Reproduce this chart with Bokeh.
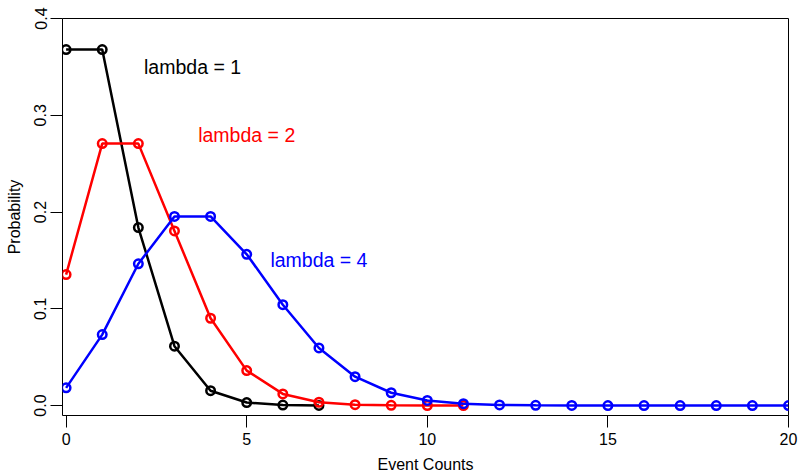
from bokeh.plotting import figure
from bokeh.models import FixedTicker, Range1d
from bokeh.core.properties import value
from bokeh.embed import file_html
from bokeh.resources import INLINE

# Data (Poisson probabilities)
x1 = [0, 1, 2, 3, 4, 5, 6, 7]
p1 = [0.3679, 0.3679, 0.1839, 0.0613, 0.0153, 0.0031, 0.0005, 0.0001]

x2 = [0, 1, 2, 3, 4, 5, 6, 7, 8, 9, 10, 11]
p2 = [0.1353, 0.2707, 0.2707, 0.1804, 0.0902, 0.0361, 0.0120, 0.0034,
      0.0009, 0.0002, 0.00004, 0.00001]

x4 = list(range(0, 21))
p4 = [0.0183, 0.0733, 0.1465, 0.1954, 0.1954, 0.1563, 0.1042, 0.0595,
      0.0298, 0.0132, 0.0053, 0.0019, 0.0006, 0.0002, 0.00005, 0.00001,
      0.0, 0.0, 0.0, 0.0, 0.0]

labels = ["lambda = 1", "lambda = 2", "lambda = 4"]
label_x = [3.5, 5, 7]
label_y = [0.35, 0.28, 0.15]
colors = ["#000000", "#FF0000", "#0000FF"]

x_ticks = [0, 5, 10, 15, 20]
y_ticks = [0.0, 0.1, 0.2, 0.3, 0.4]
y_tick_labels = ["0.0", "0.1", "0.2", "0.3", "0.4"]

FONT = "Liberation Sans"

p = figure(width=800, height=475, output_backend="svg", toolbar_location=None,
           x_range=Range1d(-0.1, 20), y_range=Range1d(-0.0103, 0.4),
           min_border_left=62, min_border_right=12, min_border_top=18,
           min_border_bottom=59)

p.background_fill_color = "white"
p.border_fill_color = "white"
p.outline_line_color = "black"
p.outline_line_width = 1
p.xgrid.visible = False
p.ygrid.visible = False

for xs, ys, c in [(x1, p1, colors[0]), (x2, p2, colors[1]), (x4, p4, colors[2])]:
    p.line(xs, ys, line_color=c, line_width=2.5)
    p.scatter(xs, ys, marker="circle", size=8.5, fill_color=None,
              line_color=c, line_width=2.5)

for t, tx, ty, c in zip(labels, label_x, label_y, colors):
    p.text(x=[tx], y=[ty], text=[t], text_color=c, text_align="center",
           text_baseline="middle", text_font=value(FONT),
           text_font_size="19.5px")

for ax in (p.xaxis[0], p.yaxis[0]):
    ax.axis_line_color = None
    ax.major_tick_line_color = "black"
    ax.major_tick_out = 12
    ax.major_tick_in = 0
    ax.minor_tick_line_color = None
    ax.major_label_text_font = FONT
    ax.major_label_text_font_size = "16px"
    ax.major_label_text_color = "black"
    ax.axis_label_text_font = FONT
    ax.axis_label_text_font_size = "16px"
    ax.axis_label_text_font_style = "normal"
    ax.axis_label_text_color = "black"

p.xaxis.ticker = FixedTicker(ticks=x_ticks)
p.yaxis.ticker = FixedTicker(ticks=y_ticks)
p.yaxis.major_label_overrides = {v: s for v, s in zip(y_ticks, y_tick_labels)}
p.yaxis.major_label_orientation = "vertical"
p.xaxis.axis_label = "Event Counts"
p.yaxis.axis_label = "Probability"
p.xaxis.major_label_standoff = 5
p.xaxis.axis_label_standoff = 8
p.yaxis.major_label_standoff = 4
p.yaxis.axis_label_standoff = 9

open("out.html", "w").write(file_html(p, INLINE))
